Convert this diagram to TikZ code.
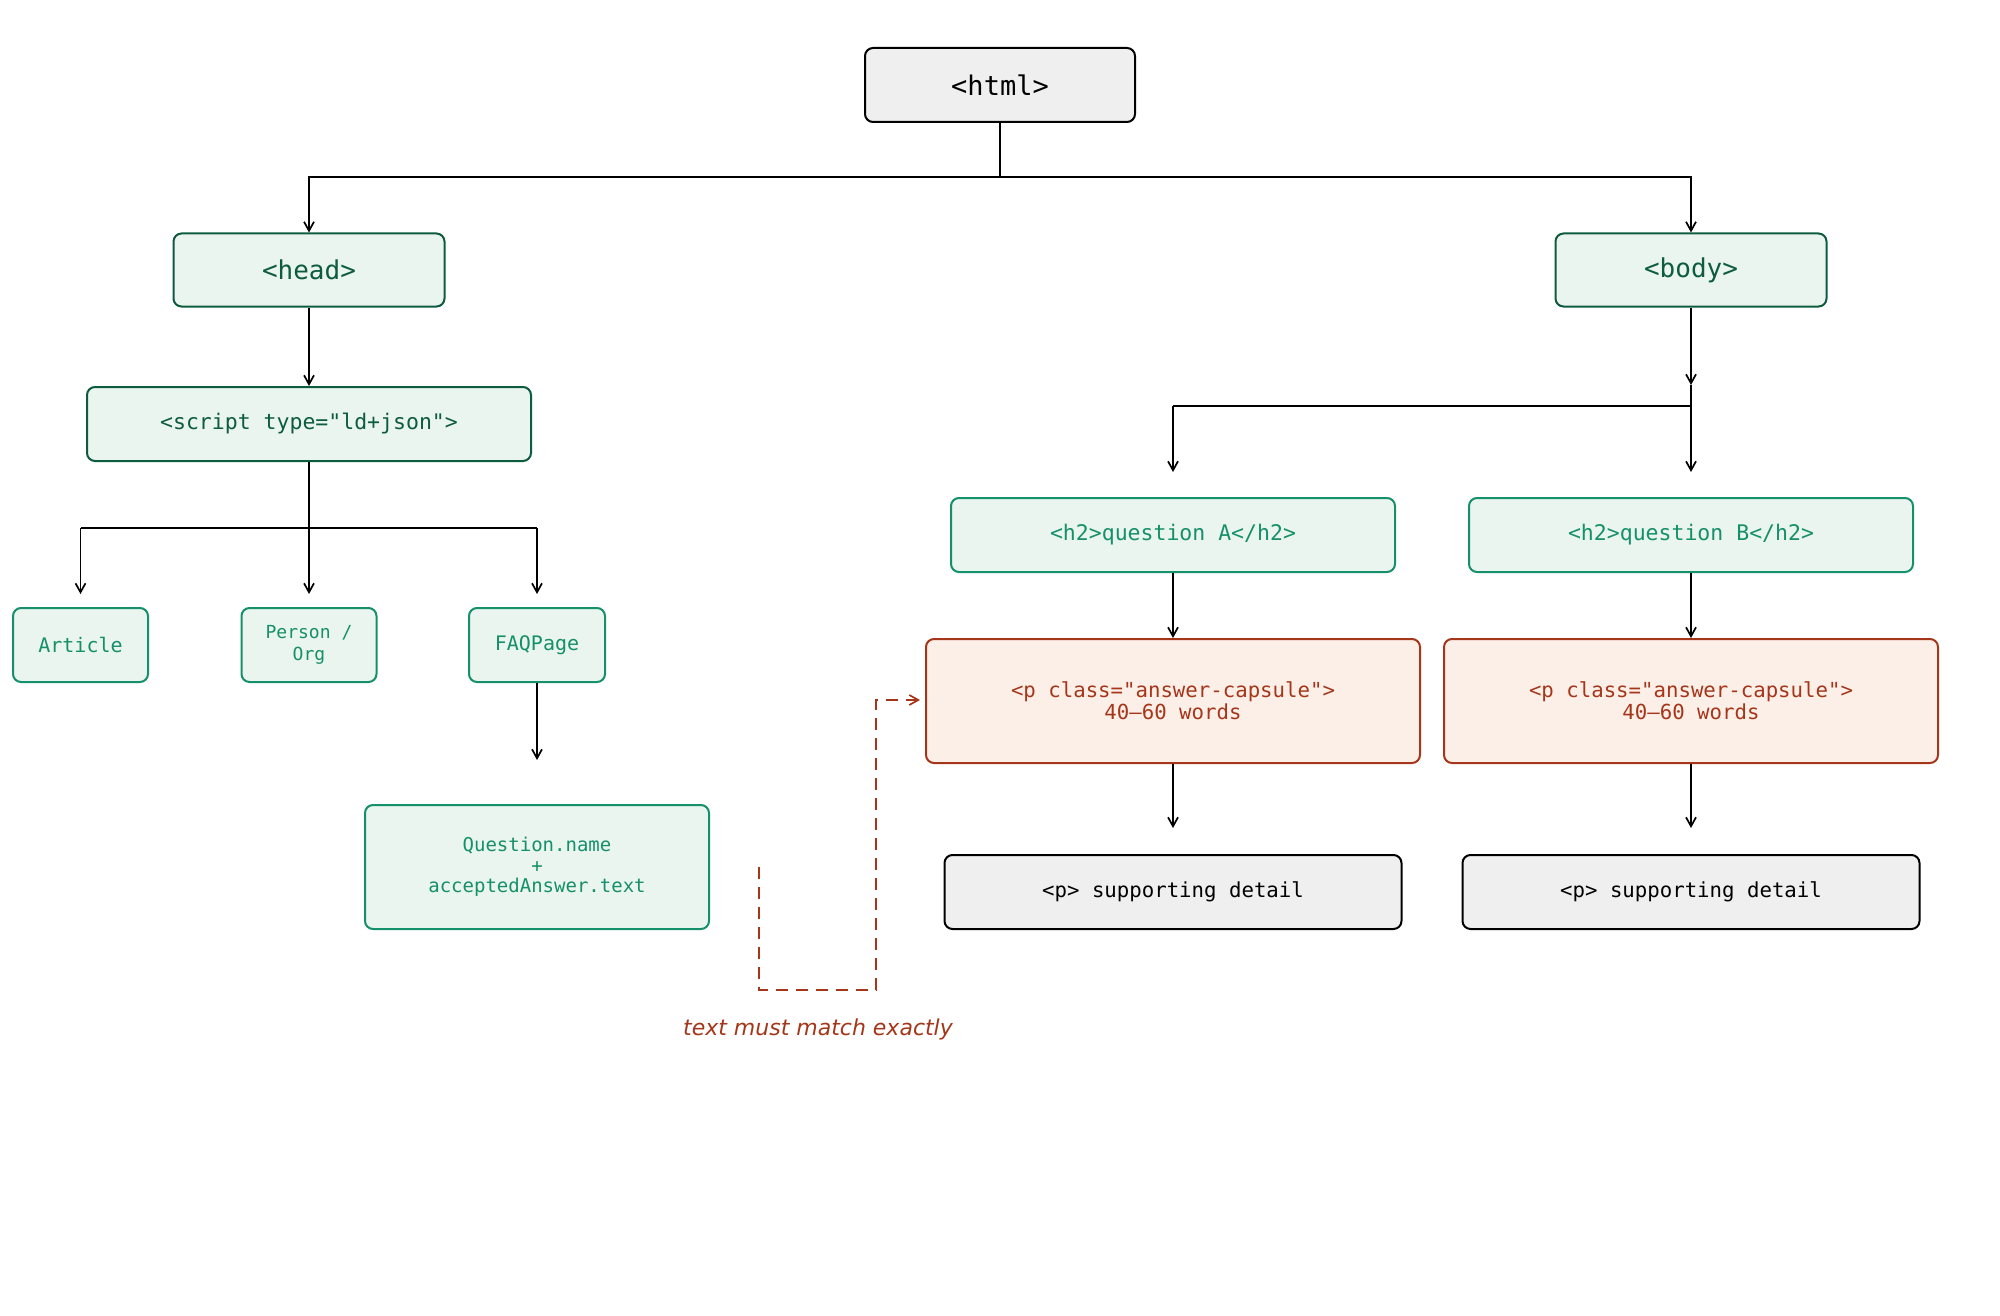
\documentclass[tikz,border=0pt]{standalone}
\usepackage{fontspec}
\setmainfont{DejaVu Sans}
\setmonofont{DejaVu Sans Mono}
\usetikzlibrary{arrows.meta}
\definecolor{dgreen}{HTML}{0D5C3F}
\definecolor{mgreen}{HTML}{16906A}
\definecolor{gfill}{HTML}{EAF5EF}
\definecolor{orng}{HTML}{A5361A}
\definecolor{ofill}{HTML}{FCEFE8}
\definecolor{greyfill}{HTML}{EFEFEF}
\tikzset{
  box/.style={rectangle, rounded corners=8pt, line width=2pt, align=center, inner sep=0pt, font=\ttfamily},
  graybox/.style={box, draw=black, fill=greyfill, text=black},
  dbox/.style={box, draw=dgreen, fill=gfill, text=dgreen},
  mbox/.style={box, draw=mgreen, fill=gfill, text=mgreen},
  obox/.style={box, draw=orng, fill=ofill, text=orng},
  conn/.style={line width=1.7pt, draw=black},
  arr/.style={conn, -{Straight Barb[length=9pt,width=10pt,line width=1.7pt]}},
  darr/.style={line width=1.8pt, draw=orng, dash pattern=on 12pt off 8pt, -{Straight Barb[length=9pt,width=10pt,line width=1.7pt]}},
}
\newcommand{\fs}[2]{\fontsize{#1}{#2}\selectfont}
\begin{document}
\begin{tikzpicture}[x=1pt,y=-1pt]
\fill[white] (0,0) rectangle (2000,1316);
\useasboundingbox (0,0) rectangle (2000,1316);

\node[graybox, minimum width=270, minimum height=74, font=\ttfamily\fs{27}{30}] (html) at (1000,85) {<html>};
\node[dbox, minimum width=271, minimum height=73, font=\ttfamily\fs{26}{30}] (head) at (309,270) {<head>};
\node[dbox, minimum width=271, minimum height=73, font=\ttfamily\fs{26}{30}] (body) at (1691,270) {<body>};
\node[dbox, minimum width=444, minimum height=74, font=\ttfamily\fs{21.5}{25}] (script) at (309,424) {<script type="ld+json">};
\node[mbox, minimum width=135, minimum height=74, font=\ttfamily\fs{20}{23}] (article) at (80.5,645) {Article};
\node[mbox, minimum width=135, minimum height=74, font=\ttfamily\fs{18}{21.5}] (person) at (309,645) {Person /\\Org};
\node[mbox, minimum width=136, minimum height=74, font=\ttfamily\fs{20}{23}] (faq) at (537,645) {FAQPage};
\node[mbox, minimum width=344, minimum height=124, font=\ttfamily\fs{19}{20.5}] (qa) at (537,867) {Question.name\\+\\acceptedAnswer.text};

\node[mbox, minimum width=444, minimum height=74, font=\ttfamily\fs{21.5}{25}] (h2a) at (1173,535) {<h2>question A</h2>};
\node[mbox, minimum width=444, minimum height=74, font=\ttfamily\fs{21.5}{25}] (h2b) at (1691,535) {<h2>question B</h2>};
\node[obox, minimum width=494, minimum height=124, font=\ttfamily\fs{20.7}{22}] (capa) at (1173,701) {<p class="answer-capsule">\\40–60 words};
\node[obox, minimum width=494, minimum height=124, font=\ttfamily\fs{20.7}{22}] (capb) at (1691,701) {<p class="answer-capsule">\\40–60 words};
\node[graybox, minimum width=457, minimum height=74, font=\ttfamily\fs{20.7}{24}] (supa) at (1173,892) {<p> supporting detail};
\node[graybox, minimum width=457, minimum height=74, font=\ttfamily\fs{20.7}{24}] (supb) at (1691,892) {<p> supporting detail};

\node[text=orng, font=\itshape\fs{22}{26}] (note) at (818,1029) {text must match exactly};

% html split
\coordinate (j1) at (1000,177);
\draw[conn] (html.south) -- (j1);
\draw[arr] (j1) -| (head.north);
\draw[arr] (j1) -| (body.north);

% head -> script
\draw[arr] (head.south) -- (script.north);

% script split
\coordinate (j2) at (309,528);
\coordinate (ta) at (80.5,594);
\coordinate (tp) at (309,594);
\coordinate (tf) at (537,594);
\draw[conn] (script.south) -- (j2);
\draw[conn] (ta |- j2) -- (tf |- j2);
\draw[arr] (ta |- j2) -- (ta);
\draw[arr] (j2) -- (tp);
\draw[arr] (tf |- j2) -- (tf);

% faq -> question
\coordinate (tq) at (537,760);
\draw[arr] (faq.south) -- (tq);

% body split
\coordinate (b1) at (1691,385);
\coordinate (b2) at (1691,406);
\coordinate (tha) at (1173,472);
\coordinate (thb) at (1691,472);
\draw[arr] (body.south) -- (b1);
\draw[conn] (b1) -- (b2) -- (tha |- b2);
\draw[arr] (tha |- b2) -- (tha);
\draw[arr] (b2) -- (thb);

% h2 -> capsule
\draw[arr] (h2a.south) -- (capa.north);
\draw[arr] (h2b.south) -- (capb.north);

% capsule -> support
\coordinate (tsa) at (1173,828);
\coordinate (tsb) at (1691,828);
\draw[arr] (capa.south) -- (tsa);
\draw[arr] (capb.south) -- (tsb);

% dashed link
\coordinate (d0) at (759,867);
\coordinate (d1) at (759,990);
\coordinate (d2) at (876,990);
\coordinate (d3) at (876,700);
\coordinate (d4) at (920,700);
\draw[darr] (d0) -- (d1) -- (d2) -- (d3) -- (d4);
\end{tikzpicture}
\end{document}
